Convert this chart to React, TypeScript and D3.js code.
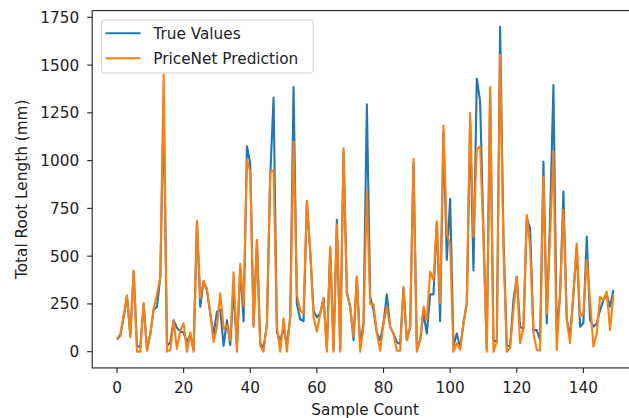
import React from "react";
import * as d3 from "d3";

const trueValues: number[] = [
  65, 85, 180, 290, 90, 420, 30, 25, 250, 10,
  95, 220, 235, 390, 1300, 30, 50, 165, 125, 105,
  100, 50, 90, 10, 680, 235, 370, 320, 200, 90,
  210, 220, 30, 165, 35, 330, 20, 440, 160, 1075,
  985, 140, 580, 45, 20, 140, 920, 1330, 100, 60,
  120, 40, 180, 1385, 250, 170, 160, 780, 520, 215,
  180, 200, 280, 20, 540, 10, 690, 10, 1050, 310,
  235, 60, 390, 30, 150, 1295, 290, 215, 100, 60,
  150, 300, 130, 95, 50, 40, 330, 60, 130, 990,
  20, 60, 200, 95, 300, 300, 680, 160, 1150, 480,
  800, 30, 95, 20, 150, 250, 1200, 425, 1430, 1310,
  620, 10, 1370, 60, 50, 1700, 600, 30, 30, 270,
  390, 130, 120, 700, 646, 113, 113, 61, 995, 148,
  700, 1395, 96, 300, 838, 170, 79, 300, 550, 131,
  150, 602, 166, 131, 148, 218, 270, 300, 235, 323,
];

const predValues: number[] = [
  70, 90, 190, 295, 75, 425, 0, 0, 255, 5,
  90, 225, 300, 390, 1450, 0, 10, 160, 15, 110,
  148, 0, 100, 0, 685, 280, 370, 330, 200, 50,
  130, 305, 120, 140, 60, 415, 0, 460, 240, 1005,
  940, 130, 585, 30, 0, 150, 940, 950, 130, 0,
  175, 0, 185, 1100, 300, 215, 200, 790, 530, 180,
  105, 200, 280, 0, 550, 0, 665, 0, 1065, 310,
  235, 80, 395, 0, 130, 840, 250, 250, 96, 5,
  148, 235, 130, 96, 5, 5, 340, 60, 130, 1010,
  0, 60, 235, 166, 420, 375, 681, 253, 1182, 620,
  560, 0, 44, 10, 148, 253, 1250, 600, 1060, 1074,
  600, 0, 1385, 0, 52, 1554, 550, 0, 20, 218,
  393, 44, 122, 716, 550, 96, 10, 5, 917, 200,
  600, 1048, 9, 305, 742, 166, 44, 305, 567, 183,
  200, 480, 270, 26, 96, 288, 270, 314, 113, 297,
];

const xTicks: number[] = [0, 20, 40, 60, 80, 100, 120, 140];
const yTicks: number[] = [0, 250, 500, 750, 1000, 1250, 1500, 1750];
const seriesNames: string[] = ["True Values", "PriceNet Prediction"];

const W = 629;
const H = 418;
const FONT = "'DejaVu Sans', sans-serif";
const FS = 15.3;

export default function App() {
  const n = trueValues.length;
  const x = d3.scaleLinear().domain([0, 140]).range([117, 583.4]);
  const y = d3.scaleLinear().domain([0, 1750]).range([351.7, 17.3]);
  const maxV = d3.max([...trueValues, ...predValues]) as number;
  const minV = d3.min([...trueValues, ...predValues]) as number;
  const xm = (n - 1) * 0.05;
  const ym = (maxV - minV) * 0.05;
  const left = x(-xm);
  const right = x(n - 1 + xm);
  const top = y(maxV + ym);
  const bottom = y(minV - ym);

  const line = d3
    .line<number>()
    .x((_, i) => x(i))
    .y((d) => y(d));

  const colors = ["#1f77b4", "#ff7f0e"];

  return (
    <div style={{ position: "fixed", left: 0, top: 0, width: W, height: H, background: "#fff" }}>
      <svg width={W} height={H} style={{ display: "block" }} fontFamily={FONT}>
        <rect x={0} y={0} width={W} height={H} fill="#fff" />
        <defs>
          <clipPath id="plotclip">
            <rect x={left} y={top} width={right - left} height={bottom - top} />
          </clipPath>
        </defs>
        <g clipPath="url(#plotclip)">
          <path d={line(trueValues) || ""} fill="none" stroke={colors[0]} strokeWidth={2.1} strokeLinejoin="round" />
          <path d={line(predValues) || ""} fill="none" stroke={colors[1]} strokeWidth={2.1} strokeLinejoin="round" />
        </g>
        <rect x={left} y={top} width={right - left} height={bottom - top} fill="none" stroke="#222" strokeWidth={1.1} />
        {xTicks.map((t) => (
          <g key={"x" + t}>
            <line x1={x(t)} x2={x(t)} y1={bottom} y2={bottom + 5} stroke="#222" strokeWidth={1.1} />
            <text x={x(t)} y={bottom + 25} textAnchor="middle" fontSize={FS} fill="#222">
              {t}
            </text>
          </g>
        ))}
        {yTicks.map((t) => (
          <g key={"y" + t}>
            <line x1={left - 5} x2={left} y1={y(t)} y2={y(t)} stroke="#222" strokeWidth={1.1} />
            <text x={left - 13} y={y(t) + 5.5} textAnchor="end" fontSize={FS} fill="#222">
              {t}
            </text>
          </g>
        ))}
        <text x={(left + right) / 2} y={415} textAnchor="middle" fontSize={FS} fill="#222">
          Sample Count
        </text>
        <text
          transform={`translate(27, ${(top + bottom) / 2}) rotate(-90)`}
          textAnchor="middle"
          fontSize={FS}
          fill="#222"
        >
          Total Root Length (mm)
        </text>
        <g>
          <rect x={101.7} y={20} width={211.5} height={53} rx={3} fill="#fff" fillOpacity={0.8} stroke="#d0d0d0" strokeWidth={1} />
          {seriesNames.map((s, i) => (
            <g key={s}>
              <line x1={105.5} x2={140.5} y1={33.3 + i * 25} y2={33.3 + i * 25} stroke={colors[i]} strokeWidth={2.1} />
              <text x={153.3} y={38.8 + i * 25} fontSize={FS} fill="#222">
                {s}
              </text>
            </g>
          ))}
        </g>
      </svg>
    </div>
  );
}
